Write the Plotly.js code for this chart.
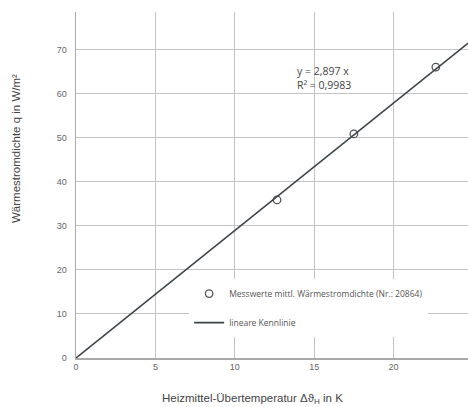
<!DOCTYPE html>
<html><head><meta charset="utf-8">
<script src="https://cdn.plot.ly/plotly-3.0.1.min.js"></script>
<style>html,body{margin:0;padding:0;background:#fff;overflow:hidden;}#c{width:490px;height:407px;}</style>
</head><body><div id="c"></div>
<script>
const measX = [12.66, 17.5, 22.66];
const measY = [35.9, 50.9, 66.1];
const slope = 2.897;
const fitX = [0, 26];
const fitY = fitX.map(v => v * slope);
const xTicks = [0, 5, 10, 15, 20, 25];
const yTicks = [0, 10, 20, 30, 40, 50, 60, 70];
const measName = 'Messwerte mittl. Wärmestromdichte (Nr.: 20864)';
const fitName = 'lineare Kennlinie';
const eqText = 'y = 2,897 x<br>R² = 0,9983';

const data = [
  {x: measX, y: measY, type: 'scatter', mode: 'markers', name: measName, legendgroup: 'a',
   marker: {symbol: 'circle-open', size: 7.5, color: '#555', line: {width: 1.3, color: '#555'}}},
  {x: fitX, y: fitY, type: 'scatter', mode: 'lines', name: fitName, legendgroup: 'b',
   line: {color: '#3c4448', width: 1.6}}
];
const layout = {
  width: 490, height: 407,
  margin: {l: 76, r: 17, t: 12, b: 49},
  paper_bgcolor: '#fff', plot_bgcolor: '#fff',
  font: {family: 'Liberation Sans, Arial, sans-serif', color: '#444'},
  showlegend: true,
  legend: {x: 0.285, y: 0.228, xanchor: 'left', yanchor: 'top', bgcolor: '#fff',
           font: {size: 8.5, family: 'Open Sans, sans-serif', color: '#555'},
           itemwidth: 30, tracegroupgap: 10, traceorder: 'grouped'},
  xaxis: {range: [0, 25], tickvals: xTicks, ticktext: xTicks.map(String), showgrid: true,
          gridcolor: '#c4c4c4', gridwidth: 1, zeroline: false, showline: true, linecolor: '#aaa', linewidth: 1.5,
          ticks: '', tickfont: {size: 9, color: '#666'}},
  yaxis: {range: [0, 78.6], tickvals: yTicks, ticktext: yTicks.map(String), showgrid: true,
          gridcolor: '#c4c4c4', gridwidth: 1, zeroline: false, showline: true, linecolor: '#aaa', linewidth: 1.5,
          ticks: '', tickfont: {size: 9, color: '#666'}, ticklabelstandoff: 6},
  annotations: [
    {text: eqText, xref: 'x', yref: 'y', x: 15.6, y: 63.5, showarrow: false, align: 'left',
     font: {size: 10.5, color: '#444', family: 'Open Sans, sans-serif'}},
    {text: 'Heizmittel-Übertemperatur Δϑ<sub>H</sub> in K', xref: 'paper', yref: 'paper',
     x: (252 - 76) / 397, y: (358 - 399) / 346, showarrow: false, yanchor: 'middle',
     font: {size: 11.5, color: '#444'}},
    {text: 'Wärmestromdichte q in W/m²', xref: 'paper', yref: 'paper', textangle: -90,
     x: (16 - 76) / 397, y: (358 - 148) / 346, showarrow: false, xanchor: 'center', yanchor: 'middle',
     font: {size: 11.5, color: '#444'}}
  ]
};
Plotly.newPlot('c', data, layout, {displayModeBar: false, staticPlot: true});
</script></body></html>
